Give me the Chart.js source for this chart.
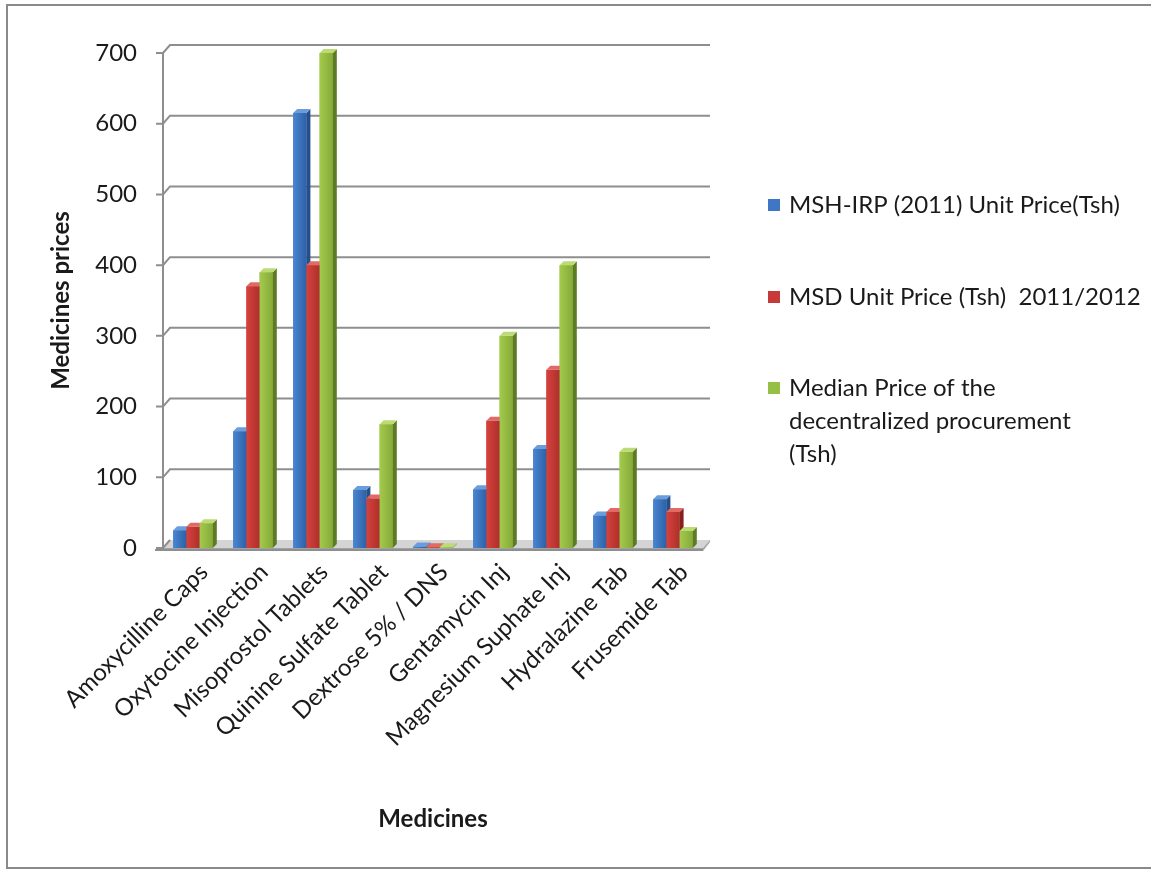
<!DOCTYPE html>
<html>
<head>
<meta charset="utf-8">
<script src="https://cdn.jsdelivr.net/npm/chart.js@4.4.1/dist/chart.umd.min.js"></script>
<style>
  html, body { margin: 0; padding: 0; background: #fff; overflow: hidden; }
  canvas { display: block; }
</style>
</head>
<body>
<canvas id="chart" width="1151" height="872"></canvas>
<script>
// ---- data ----
const medicines = [
  'Amoxycilline Caps', 'Oxytocine Injection', 'Misoprostol Tablets',
  'Quinine Sulfate Tablet', 'Dextrose 5% / DNS', 'Gentamycin Inj',
  'Magnesium Suphate Inj', 'Hydralazine Tab', 'Frusemide Tab'
];
const mshIrpPrice   = [25, 165, 615, 82, 2, 83, 140, 46, 69];
const msdUnitPrice  = [30, 370, 400, 70, 1, 180, 252, 51, 51];
const medianPrice   = [35, 390, 700, 175, 1, 300, 400, 136, 24];
const yTickValues   = [0, 100, 200, 300, 400, 500, 600, 700];
const seriesNames = [
  'MSH-IRP (2011) Unit Price(Tsh)',
  'MSD Unit Price (Tsh)  2011/2012',
  'Median Price of the decentralized procurement (Tsh)'
];
const legendLines = [
  ['MSH-IRP (2011) Unit Price(Tsh)'],
  ['MSD Unit Price (Tsh)  2011/2012'],
  ['Median Price of the', 'decentralized procurement', '(Tsh)']
];

// ---- styling ----
const FONT = 'Lato, "Open Sans", sans-serif';
const palettes = [
  { light: '#4a86d2', dark: '#2d61a6', top: '#6a9ddc', side: '#234f8a', key: '#3f77c4' },
  { light: '#d6423d', dark: '#ae2f2b', top: '#e26a66', side: '#86211e', key: '#c8393a' },
  { light: '#a3ca4c', dark: '#86aa38', top: '#bcdb74', side: '#5d7b25', key: '#95bf45' }
];
const WALL_DX = 7, WALL_DY = 8;   // back wall offset
const BAR_D = 4;                  // bar depth

const excel3d = {
  id: 'excel3d',
  beforeDraw(chart) {
    const ctx = chart.ctx;
    ctx.save();
    ctx.fillStyle = '#fff';
    ctx.fillRect(0, 0, chart.width, chart.height);
    ctx.strokeStyle = '#8a8a8a';
    ctx.lineWidth = 2;
    ctx.beginPath();
    ctx.moveTo(chart.width + 2, 5);
    ctx.lineTo(7, 5);
    ctx.lineTo(7, 868);
    ctx.lineTo(chart.width + 2, 868);
    ctx.stroke();
    ctx.restore();
  },
  beforeDatasetsDraw(chart) {
    const ctx = chart.ctx;
    const y = chart.scales.y;
    const area = chart.chartArea;
    const L = area.left, R = area.right;
    const backR = R + WALL_DX;
    ctx.save();
    // floor
    const y0 = y.getPixelForValue(0);
    ctx.fillStyle = '#d4d4d4';
    ctx.beginPath();
    ctx.moveTo(L, y0);
    ctx.lineTo(R, y0);
    ctx.lineTo(backR, y0 - WALL_DY);
    ctx.lineTo(L + WALL_DX, y0 - WALL_DY);
    ctx.closePath();
    ctx.fill();
    ctx.fillStyle = '#a3a3a3';
    ctx.beginPath();
    ctx.moveTo(L, y0);
    ctx.lineTo(R, y0);
    ctx.lineTo(backR, y0 - WALL_DY);
    ctx.lineTo(backR, y0 - WALL_DY + 2);
    ctx.lineTo(R, y0 + 3);
    ctx.lineTo(L, y0 + 3);
    ctx.closePath();
    ctx.fill();
    // back-wall gridlines
    ctx.strokeStyle = '#8e8e8e';
    ctx.lineWidth = 2;
    yTickValues.forEach(v => {
      const py = y.getPixelForValue(v);
      ctx.beginPath();
      ctx.moveTo(L - 7, py);
      ctx.lineTo(L, py);
      ctx.lineTo(L + WALL_DX, py - WALL_DY);
      if (v !== 0) ctx.lineTo(backR, py - WALL_DY);
      ctx.stroke();
    });
    // front axis line
    ctx.beginPath();
    ctx.moveTo(L, y.getPixelForValue(700));
    ctx.lineTo(L, y0 + 2);
    ctx.stroke();
    ctx.beginPath();
    ctx.moveTo(L - 8, y0 + 2);
    ctx.lineTo(R, y0 + 2);
    ctx.stroke();
    ctx.restore();
  },
  afterDatasetsDraw(chart) {
    const ctx = chart.ctx;
    ctx.save();
    const metas = chart.data.datasets.map((_, d) => chart.getDatasetMeta(d));
    for (let i = 0; i < medicines.length; i++) {
      metas.forEach((meta, d) => {
        const el = meta.data[i];
        const p = el.getProps(['x', 'y', 'base', 'width'], true);
        const pal = palettes[d];
        const l = p.x - p.width / 2, r = p.x + p.width / 2;
        const t = p.y, b = p.base;
        // front face
        const g = ctx.createLinearGradient(l, 0, r, 0);
        g.addColorStop(0, pal.light);
        g.addColorStop(1, pal.dark);
        ctx.fillStyle = g;
        ctx.fillRect(l, t, r - l, b - t);
        // side face
        ctx.fillStyle = pal.side;
        ctx.beginPath();
        ctx.moveTo(r, t);
        ctx.lineTo(r + BAR_D, t - BAR_D);
        ctx.lineTo(r + BAR_D, b - BAR_D);
        ctx.lineTo(r, b);
        ctx.closePath();
        ctx.fill();
        // top face
        ctx.fillStyle = pal.top;
        ctx.beginPath();
        ctx.moveTo(l, t);
        ctx.lineTo(l + BAR_D, t - BAR_D);
        ctx.lineTo(r + BAR_D, t - BAR_D);
        ctx.lineTo(r, t);
        ctx.closePath();
        ctx.fill();
      });
    }
    ctx.restore();
  },
  afterDraw(chart) {
    const ctx = chart.ctx;
    ctx.save();
    ctx.font = '24px ' + FONT;
    ctx.textBaseline = 'middle';
    const startY = [205, 297, 388];
    const lineH = 33;
    legendLines.forEach((lines, d) => {
      ctx.fillStyle = palettes[d].key;
      ctx.fillRect(768, startY[d] - 6, 12, 12);
      ctx.fillStyle = '#1a1a1a';
      lines.forEach((txt, k) => ctx.fillText(txt, 789, startY[d] + k * lineH));
    });
    ctx.restore();
  }
};

new Chart(document.getElementById('chart'), {
  type: 'bar',
  data: {
    labels: medicines,
    datasets: [
      { label: seriesNames[0], data: mshIrpPrice,  backgroundColor: palettes[0].key },
      { label: seriesNames[1], data: msdUnitPrice, backgroundColor: palettes[1].key },
      { label: seriesNames[2], data: medianPrice,  backgroundColor: palettes[2].key }
    ]
  },
  options: {
    responsive: false,
    animation: false,
    events: [],
    layout: { padding: { left: 0, top: 53, right: 448, bottom: 0 } },
    datasets: { bar: { categoryPercentage: 0.66, barPercentage: 1.0 } },
    plugins: { legend: { display: false }, tooltip: { enabled: false } },
    scales: {
      x: {
        grid: { display: false, drawTicks: false },
        border: { display: false },
        ticks: {
          autoSkip: false, minRotation: 45, maxRotation: 45,
          padding: 10, labelOffset: 11, color: '#1a1a1a',
          font: { family: FONT, size: 24 }
        },
        title: {
          display: true, text: 'Medicines', color: '#1a1a1a',
          font: { family: FONT, size: 24, weight: 'bold' },
          padding: { top: 0, bottom: 38 }
        },
        afterFit(scale) { scale.height = 872 - 548; }
      },
      y: {
        min: 0, max: 700,
        grid: { display: false, drawTicks: false },
        border: { display: false },
        afterBuildTicks(scale) { scale.ticks = yTickValues.map(v => ({ value: v })); },
        ticks: {
          padding: 26, color: '#1a1a1a',
          font: { family: FONT, size: 24 }
        },
        title: {
          display: true, text: 'Medicines prices', color: '#1a1a1a',
          font: { family: FONT, size: 24, weight: 'bold' },
          padding: { top: 47, bottom: 0 }
        },
        afterFit(scale) { scale.width = 163; }
      }
    }
  },
  plugins: [excel3d]
});
</script>
</body>
</html>
